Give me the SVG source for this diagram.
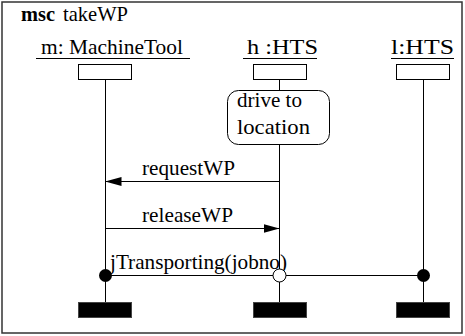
<svg xmlns="http://www.w3.org/2000/svg" width="465" height="336" viewBox="0 0 465 336">
<style>
text{font-family:"Liberation Serif","Times New Roman",serif;font-size:21px;fill:#000}
.hd{fill:#fff;stroke:#000;stroke-width:1}
.end{fill:#000;stroke:#444;stroke-width:1}
.ll{stroke:#000;stroke-width:1;fill:none}
.msg{stroke:#000;stroke-width:1;fill:none}
</style>
<defs>
<marker id="ah" markerWidth="16" markerHeight="9" refX="16" refY="4.5" orient="auto" markerUnits="userSpaceOnUse">
<path d="M0,0 L16,4.5 L0,9 Z" fill="#000"/>
</marker>
</defs>
<rect x="2" y="2" width="460" height="331" fill="#fff" stroke="#333" stroke-width="1.5"/>
<text x="21" y="21" font-weight="bold" textLength="34" lengthAdjust="spacingAndGlyphs">msc</text>
<text x="63" y="21" textLength="65" lengthAdjust="spacingAndGlyphs">takeWP</text>
<g id="m">
<text x="41" y="54" textLength="142" lengthAdjust="spacingAndGlyphs">m: MachineTool</text>
<line x1="36" y1="58.5" x2="190" y2="58.5" stroke="#000"/>
<rect class="hd" x="78.5" y="64.5" width="53" height="15"/>
<line class="ll" x1="105.5" y1="79.5" x2="105.5" y2="302"/>
<rect class="end" x="78.5" y="302.5" width="53" height="15"/>
</g>
<g id="h">
<text x="247" y="54" textLength="71" lengthAdjust="spacingAndGlyphs">h :HTS</text>
<line x1="243" y1="58.5" x2="317" y2="58.5" stroke="#000"/>
<rect class="hd" x="253.5" y="64.5" width="53" height="15"/>
<line class="ll" x1="279.5" y1="79.5" x2="279.5" y2="90"/>
<line class="ll" x1="279.5" y1="145" x2="279.5" y2="302"/>
<rect class="end" x="253.5" y="302.5" width="53" height="15"/>
</g>
<g id="l">
<text x="391" y="54" textLength="63" lengthAdjust="spacingAndGlyphs">l:HTS</text>
<line x1="391" y1="58.5" x2="454" y2="58.5" stroke="#000"/>
<rect class="hd" x="396.5" y="64.5" width="53" height="15"/>
<line class="ll" x1="423.5" y1="79.5" x2="423.5" y2="302"/>
<rect class="end" x="396.5" y="302.5" width="53" height="15"/>
</g>
<g id="drive">
<rect x="227.5" y="90.5" width="102" height="54" rx="11" ry="11" fill="#fff" stroke="#000"/>
<text x="237" y="107" textLength="65" lengthAdjust="spacingAndGlyphs">drive to</text>
<text x="237" y="134" textLength="73" lengthAdjust="spacingAndGlyphs">location</text>
</g>
<g id="connectors">
<line class="msg" x1="279.5" y1="181.5" x2="105.5" y2="181.5" marker-end="url(#ah)"/>
<text x="142" y="175" textLength="93" lengthAdjust="spacingAndGlyphs">requestWP</text>
<line class="msg" x1="105.5" y1="228.5" x2="279.5" y2="228.5" marker-end="url(#ah)"/>
<text x="142" y="222" textLength="91" lengthAdjust="spacingAndGlyphs">releaseWP</text>
<line class="msg" x1="105.5" y1="275.5" x2="423.5" y2="275.5"/>
<text x="110" y="269" textLength="177" lengthAdjust="spacingAndGlyphs">jTransporting(jobno)</text>
<circle cx="105.5" cy="275.5" r="6.5" fill="#000"/>
<circle cx="279.5" cy="275.5" r="6.5" fill="#fff" stroke="#000"/>
<circle cx="423.5" cy="275.5" r="6.5" fill="#000"/>
</g>
</svg>
